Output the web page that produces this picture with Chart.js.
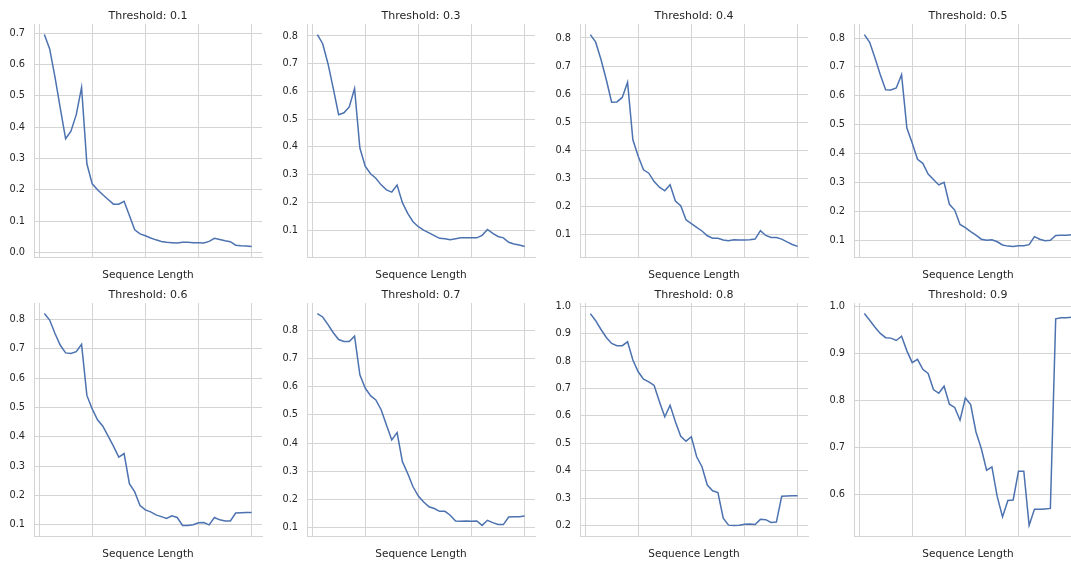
<!DOCTYPE html>
<html>
<head>
<meta charset="utf-8">
<script src="https://cdn.jsdelivr.net/npm/chart.js@4.4.1/dist/chart.umd.min.js"></script>
<style>
  html, body { margin: 0; padding: 0; background: #fff; overflow: hidden; width: 1071px; height: 565px; }
  canvas { position: absolute; }
</style>
</head>
<body>
<script>
// sequence lengths (x) shared by every panel
const seqLen = [10, 20, 30, 40, 50, 60, 70, 80, 90, 100, 110, 120, 130, 140, 150, 160, 170, 180, 190, 200,
                210, 220, 230, 240, 250, 260, 270, 280, 290, 300, 310, 320, 330, 340, 350, 360, 370, 380, 390, 400];
const xGrid = [0, 100, 200, 300, 400];

const thresholds = ['0.1', '0.3', '0.4', '0.5', '0.6', '0.7', '0.8', '0.9'];

const t01 = [0.696, 0.65, 0.56, 0.46, 0.363, 0.387, 0.44, 0.527, 0.283, 0.219, 0.20, 0.184, 0.169, 0.154, 0.154, 0.163, 0.118, 0.072, 0.059, 0.053,
             0.046, 0.040, 0.035, 0.032, 0.031, 0.030, 0.032, 0.032, 0.031, 0.031, 0.030, 0.035, 0.045, 0.041, 0.037, 0.034, 0.023, 0.021, 0.020, 0.019];
const t03 = [0.805, 0.772, 0.70, 0.61, 0.516, 0.523, 0.544, 0.61, 0.396, 0.33, 0.303, 0.287, 0.263, 0.245, 0.237, 0.262, 0.199, 0.16, 0.13, 0.112,
             0.10, 0.09, 0.08, 0.07, 0.069, 0.065, 0.069, 0.072, 0.072, 0.072, 0.072, 0.081, 0.102, 0.088, 0.077, 0.072, 0.056, 0.05, 0.046, 0.041];
const t04 = [0.812, 0.785, 0.723, 0.651, 0.571, 0.572, 0.588, 0.642, 0.437, 0.378, 0.33, 0.318, 0.288, 0.268, 0.255, 0.277, 0.219, 0.202, 0.152, 0.138,
             0.125, 0.112, 0.095, 0.086, 0.086, 0.08, 0.077, 0.081, 0.08, 0.08, 0.081, 0.083, 0.113, 0.096, 0.089, 0.089, 0.083, 0.073, 0.064, 0.057];
const t05 = [0.812, 0.785, 0.731, 0.673, 0.621, 0.62, 0.627, 0.673, 0.488, 0.436, 0.38, 0.366, 0.329, 0.31, 0.291, 0.3, 0.224, 0.204, 0.154, 0.143,
             0.129, 0.117, 0.103, 0.099, 0.101, 0.094, 0.083, 0.079, 0.078, 0.08, 0.08, 0.084, 0.112, 0.103, 0.098, 0.099, 0.116, 0.117, 0.117, 0.118];
const t06 = [0.82, 0.798, 0.752, 0.712, 0.686, 0.684, 0.69, 0.715, 0.541, 0.495, 0.458, 0.436, 0.402, 0.368, 0.331, 0.343, 0.24, 0.212, 0.166, 0.151,
             0.144, 0.134, 0.128, 0.122, 0.131, 0.125, 0.098, 0.098, 0.1, 0.107, 0.108, 0.1, 0.125, 0.117, 0.113, 0.113, 0.14, 0.141, 0.142, 0.142];
const t07 = [0.859, 0.847, 0.82, 0.791, 0.767, 0.76, 0.76, 0.779, 0.642, 0.595, 0.568, 0.553, 0.518, 0.464, 0.411, 0.437, 0.334, 0.292, 0.245, 0.212,
             0.191, 0.174, 0.168, 0.158, 0.158, 0.144, 0.124, 0.123, 0.124, 0.123, 0.124, 0.108, 0.126, 0.118, 0.111, 0.111, 0.138, 0.139, 0.139, 0.141];
const t08 = [0.973, 0.947, 0.915, 0.886, 0.864, 0.856, 0.856, 0.87, 0.804, 0.761, 0.734, 0.724, 0.711, 0.652, 0.597, 0.639, 0.579, 0.526, 0.508, 0.524,
             0.451, 0.415, 0.348, 0.327, 0.321, 0.227, 0.202, 0.201, 0.202, 0.205, 0.206, 0.204, 0.223, 0.222, 0.212, 0.213, 0.307, 0.308, 0.309, 0.309];
const t09 = [0.984, 0.970, 0.955, 0.942, 0.933, 0.932, 0.927, 0.936, 0.905, 0.880, 0.887, 0.866, 0.857, 0.823, 0.815, 0.830, 0.792, 0.785, 0.758, 0.805,
             0.791, 0.733, 0.698, 0.652, 0.659, 0.596, 0.553, 0.588, 0.589, 0.650, 0.650, 0.535, 0.569, 0.569, 0.570, 0.571, 0.973, 0.975, 0.975, 0.976];

// y tick labels per panel
const yTicks01 = [0.0, 0.1, 0.2, 0.3, 0.4, 0.5, 0.6, 0.7];
const yTicks03 = [0.1, 0.2, 0.3, 0.4, 0.5, 0.6, 0.7, 0.8];
const yTicks04 = [0.1, 0.2, 0.3, 0.4, 0.5, 0.6, 0.7, 0.8];
const yTicks05 = [0.1, 0.2, 0.3, 0.4, 0.5, 0.6, 0.7, 0.8];
const yTicks06 = [0.1, 0.2, 0.3, 0.4, 0.5, 0.6, 0.7, 0.8];
const yTicks07 = [0.1, 0.2, 0.3, 0.4, 0.5, 0.6, 0.7, 0.8];
const yTicks08 = [0.2, 0.3, 0.4, 0.5, 0.6, 0.7, 0.8, 0.9, 1.0];
const yTicks09 = [0.6, 0.7, 0.8, 0.9, 1.0];

const series = [t01, t03, t04, t05, t06, t07, t08, t09];
const yTicks = [yTicks01, yTicks03, yTicks04, yTicks05, yTicks06, yTicks07, yTicks08, yTicks09];

// layout of the 2x4 grid (plot area left / top)
const colLeft = [34, 307, 580, 854];
const rowTop = [24, 303];
const plotW = 228, plotH = 233;
const yAxisW = 40, titleH = 15, xAxisH = 30, padRight = 4;

const gridColor = '#d4d4d4';
const textColor = '#262626';
const font = 'DejaVu Sans';

// matplotlib-like 5% margins
function padded(arr) {
  const lo = Math.min(...arr), hi = Math.max(...arr);
  const m = (hi - lo) * 0.05;
  return [lo - m, hi + m];
}

series.forEach(function(vals, i) {
  const col = i % 4, row = Math.floor(i / 4);
  const cv = document.createElement('canvas');
  const w = yAxisW + plotW + padRight, h = titleH + plotH + xAxisH;
  cv.width = w; cv.height = h;
  cv.style.width = w + 'px'; cv.style.height = h + 'px';
  cv.style.left = (colLeft[col] - yAxisW) + 'px';
  cv.style.top = (rowTop[row] - titleH) + 'px';
  document.body.appendChild(cv);

  const [xMin, xMax] = padded(seqLen);
  const [yMin, yMax] = padded(vals);

  new Chart(cv.getContext('2d'), {
    type: 'line',
    data: {
      datasets: [{
        data: seqLen.map((x, k) => ({x: x, y: vals[k]})),
        borderColor: '#4c72b0',
        borderWidth: 1.5,
        pointRadius: 0,
        tension: 0,
        fill: false
      }]
    },
    options: {
      responsive: false,
      animation: false,
      devicePixelRatio: 1,
      layout: { padding: { left: 0, top: 0, right: padRight, bottom: 0 } },
      plugins: {
        legend: { display: false },
        tooltip: { enabled: false },
        title: {
          display: true,
          text: 'Threshold: ' + thresholds[i],
          fullSize: false,
          color: textColor,
          font: { family: font, size: 11, weight: 'normal', lineHeight: '14px' },
          padding: { top: 0, bottom: 1 }
        }
      },
      scales: {
        x: {
          type: 'linear',
          min: xMin,
          max: xMax,
          afterBuildTicks: function(s) { s.ticks = xGrid.map(v => ({value: v})); },
          afterFit: function(s) { s.height = xAxisH; },
          ticks: { display: false },
          grid: { color: gridColor, lineWidth: 1, drawTicks: false },
          border: { display: true, color: gridColor, width: 1 },
          title: {
            display: true,
            text: 'Sequence Length',
            color: textColor,
            font: { family: font, size: 10.5, lineHeight: '12px' },
            padding: { top: 0, bottom: 6 }
          }
        },
        y: {
          type: 'linear',
          min: yMin,
          max: yMax,
          afterBuildTicks: function(s) { s.ticks = yTicks[i].map(v => ({value: v})); },
          afterFit: function(s) { s.width = yAxisW; s.paddingTop = 0; s.paddingBottom = 0; },
          ticks: {
            color: textColor,
            padding: 9,
            font: { family: font, size: 9.8 },
            callback: function(value) { return value.toFixed(1); }
          },
          grid: { color: gridColor, lineWidth: 1, drawTicks: false },
          border: { display: true, color: gridColor, width: 1 }
        }
      }
    }
  });
});
</script>
</body>
</html>
